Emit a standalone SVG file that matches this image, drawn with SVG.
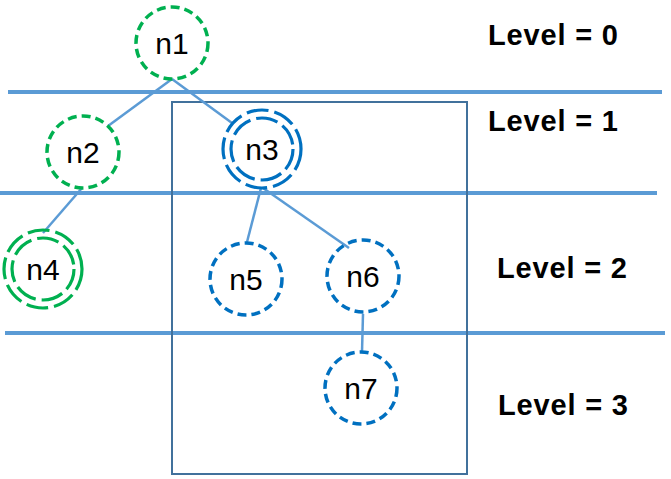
<svg xmlns="http://www.w3.org/2000/svg" width="671" height="479" viewBox="0 0 671 479">
<style>
.g{fill:none;stroke:#00b050;stroke-width:3.5;stroke-dasharray:9 5}
.b{fill:none;stroke:#0070c0;stroke-width:3.5;stroke-dasharray:9 5}
.gd{fill:none;stroke:#00b050;stroke-width:3.2;stroke-dasharray:22 6}
.bd{fill:none;stroke:#0070c0;stroke-width:3.2;stroke-dasharray:22 6}
.t{font-family:"Liberation Sans",Arial,sans-serif;font-size:30px;fill:#000;text-anchor:middle}
.lv{font-family:"Liberation Sans",Arial,sans-serif;font-size:29px;font-weight:bold;fill:#000}
.hl{stroke:#5b9bd5;stroke-width:4}
.c{stroke:#5b9bd5;stroke-width:2.5;fill:none}
</style>
<rect width="671" height="479" fill="#fff"/>
<g id="levels">
<line class="hl" x1="8" y1="92" x2="662" y2="92"/>
<line class="hl" x1="0" y1="193" x2="657" y2="193"/>
<line class="hl" x1="5" y1="333" x2="665" y2="333"/>
</g>
<rect id="subtree" x="172" y="102" width="295" height="372" fill="none" stroke="#41719c" stroke-width="2"/>
<g id="connectors">
<line class="c" x1="172" y1="79" x2="108" y2="126"/>
<line class="c" x1="172" y1="79" x2="232" y2="123"/>
<line class="c" x1="82" y1="188" x2="43" y2="233"/>
<line class="c" x1="261" y1="188" x2="247" y2="242"/>
<line class="c" x1="263" y1="188" x2="349" y2="248"/>
<line class="c" x1="363" y1="314" x2="362" y2="352"/>
</g>
<g id="n1"><circle class="g" cx="172" cy="43" r="36"/><text class="t" x="172" y="54">n1</text></g>
<g id="n2"><circle class="g" cx="83" cy="152" r="36"/><text class="t" x="83" y="163">n2</text></g>
<g id="n3"><circle class="bd" cx="262" cy="149" r="39"/><circle class="bd" cx="262" cy="149" r="31"/><text class="t" x="262" y="160">n3</text></g>
<g id="n4"><circle class="gd" cx="43" cy="269" r="39"/><circle class="gd" cx="43" cy="269" r="31"/><text class="t" x="43" y="280">n4</text></g>
<g id="n5"><circle class="b" cx="246" cy="279" r="36"/><text class="t" x="246" y="290">n5</text></g>
<g id="n6"><circle class="b" cx="363" cy="276" r="36"/><text class="t" x="363" y="287">n6</text></g>
<g id="n7"><circle class="b" cx="361" cy="388" r="36"/><text class="t" x="361" y="399">n7</text></g>
<g id="labels">
<text class="lv" x="488" y="45" textLength="130">Level = 0</text>
<text class="lv" x="488" y="131" textLength="130">Level = 1</text>
<text class="lv" x="497" y="278" textLength="130">Level = 2</text>
<text class="lv" x="498" y="415" textLength="130">Level = 3</text>
</g>
</svg>
